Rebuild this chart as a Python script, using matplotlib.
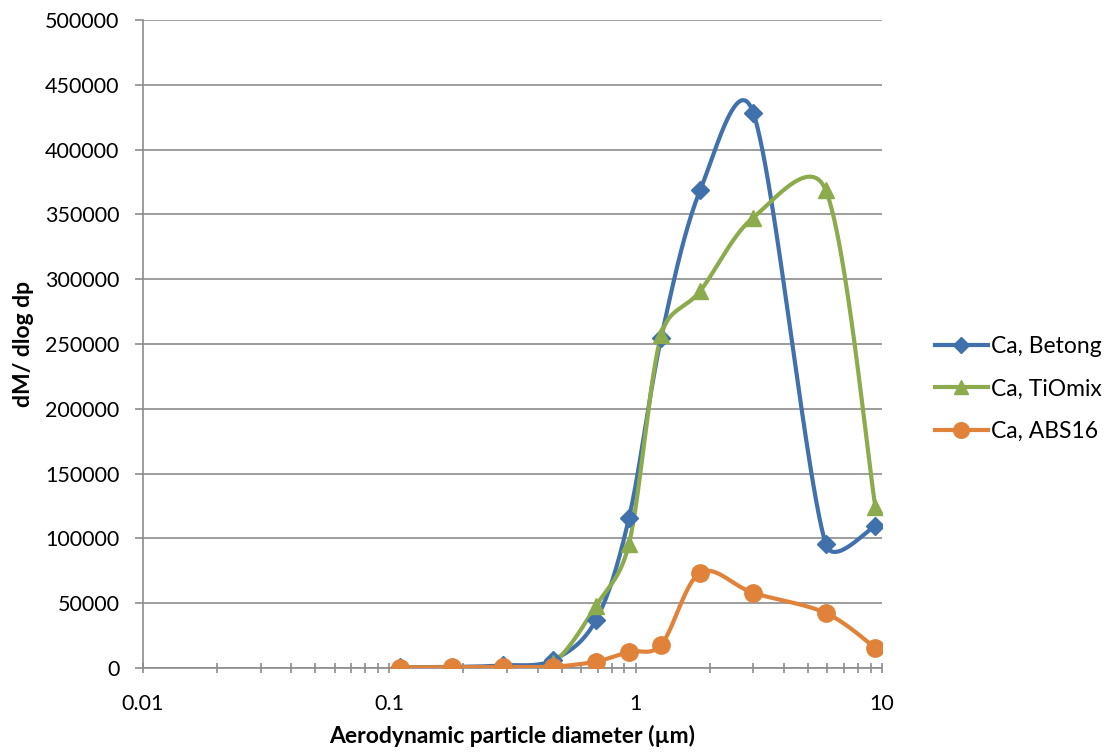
import numpy as np
import matplotlib.pyplot as plt

plt.rcParams['font.family'] = ['Lato', 'DejaVu Sans']

# stage mid diameters (um)
dp = [0.11, 0.18, 0.29, 0.46, 0.69, 0.94, 1.27, 1.83, 3.0, 5.9, 9.4]

betong = [500, 800, 2000, 6000, 37000, 116000, 255000, 369000, 428500, 96000, 109500]
tiomix = [300, 500, 1000, 4000, 48000, 96000, 257000, 291000, 347500, 369000, 124000]
abs16 = [300, 500, 800, 1000, 5000, 12500, 18000, 73500, 58000, 42500, 15500]

labels = ['Ca, Betong', 'Ca, TiOmix', 'Ca, ABS16']
colors = ['#4171ad', '#8cab4c', '#e0823a']
markers = ['D', '^', 'o']
msizes = [9.5, 11.5, 12.5]

fig = plt.figure(figsize=(11.07, 7.55), dpi=100)
ax = fig.add_axes([143 / 1107, 1 - 668 / 755, (882 - 143) / 1107, (668 - 20) / 755])
ax.set_xscale('log')
ax.set_xlim(0.01, 10)
ax.set_ylim(0, 500000)


def smooth(x, y, n=50):
    # bezier smoothing in screen coords, handle length capped by neighbour spacing
    p = ax.transData.transform(np.column_stack([x, y]))
    p = np.vstack([p[0], p, p[-1]])
    t = np.linspace(0, 1, n)[:, None]
    out = []
    for i in range(1, len(p) - 2):
        p0, p1, p2, p3 = p[i - 1], p[i], p[i + 1], p[i + 2]
        d12 = np.hypot(*(p2 - p1))
        d02 = np.hypot(*(p2 - p0))
        d13 = np.hypot(*(p3 - p1))
        f1 = min(1 / 6, 0.5 * d12 / d02) if d02 > 0 else 0
        f2 = min(1 / 6, 0.5 * d12 / d13) if d13 > 0 else 0
        c1 = p1 + (p2 - p0) * f1
        c2 = p2 - (p3 - p1) * f2
        seg = (1 - t) ** 3 * p1 + 3 * (1 - t) ** 2 * t * c1 + 3 * (1 - t) * t ** 2 * c2 + t ** 3 * p2
        out.append(seg)
    out = np.vstack(out)
    d = ax.transData.inverted().transform(out)
    return d[:, 0], d[:, 1]


for ys, lab, c, m, ms in zip([betong, tiomix, abs16], labels, colors, markers, msizes):
    sx, sy = smooth(dp, ys)
    ax.plot(sx, sy, color=c, lw=3.0, solid_capstyle='round', zorder=3)
    ax.plot(dp, ys, ls='none', marker=m, ms=ms, color=c, mec=c, zorder=4)
    ax.plot([], [], color=c, lw=3.0, marker=m, ms=ms * 0.9, label=lab)

ax.set_yticks(np.arange(0, 500001, 50000))
ax.set_xticks([0.01, 0.1, 1, 10])
ax.set_xticklabels(['0.01', '0.1', '1', '10'])
ax.yaxis.grid(True, color='#8c8c8c', lw=1.2)
ax.set_axisbelow(True)

for s in ['top', 'right']:
    ax.spines[s].set_visible(False)
for s in ['left', 'bottom']:
    ax.spines[s].set_color('#8c8c8c')
    ax.spines[s].set_linewidth(1.2)

ax.tick_params(axis='y', which='major', length=6, width=1.2, color='#8c8c8c', labelsize=15.5, pad=11)
ax.tick_params(axis='x', which='major', length=7, width=1.2, color='#8c8c8c', labelsize=15.5, pad=15, direction='inout')
ax.tick_params(axis='x', which='minor', length=7, width=1.2, color='#8c8c8c', direction='inout')

ax.set_xlabel('Aerodynamic particle diameter (µm)', fontsize=16.5, fontweight='bold', labelpad=8)
ax.set_ylabel('dM/ dlog dp', fontsize=16.5, fontweight='bold', labelpad=8)

fig.legend(loc='center left', bbox_to_anchor=(935 / 1107, 1 - 389 / 755), frameon=False,
           fontsize=16.5, handlelength=2.3, labelspacing=0.95, handletextpad=0.15,
           borderpad=0, borderaxespad=0)

fig.savefig('out.png', dpi=100)
